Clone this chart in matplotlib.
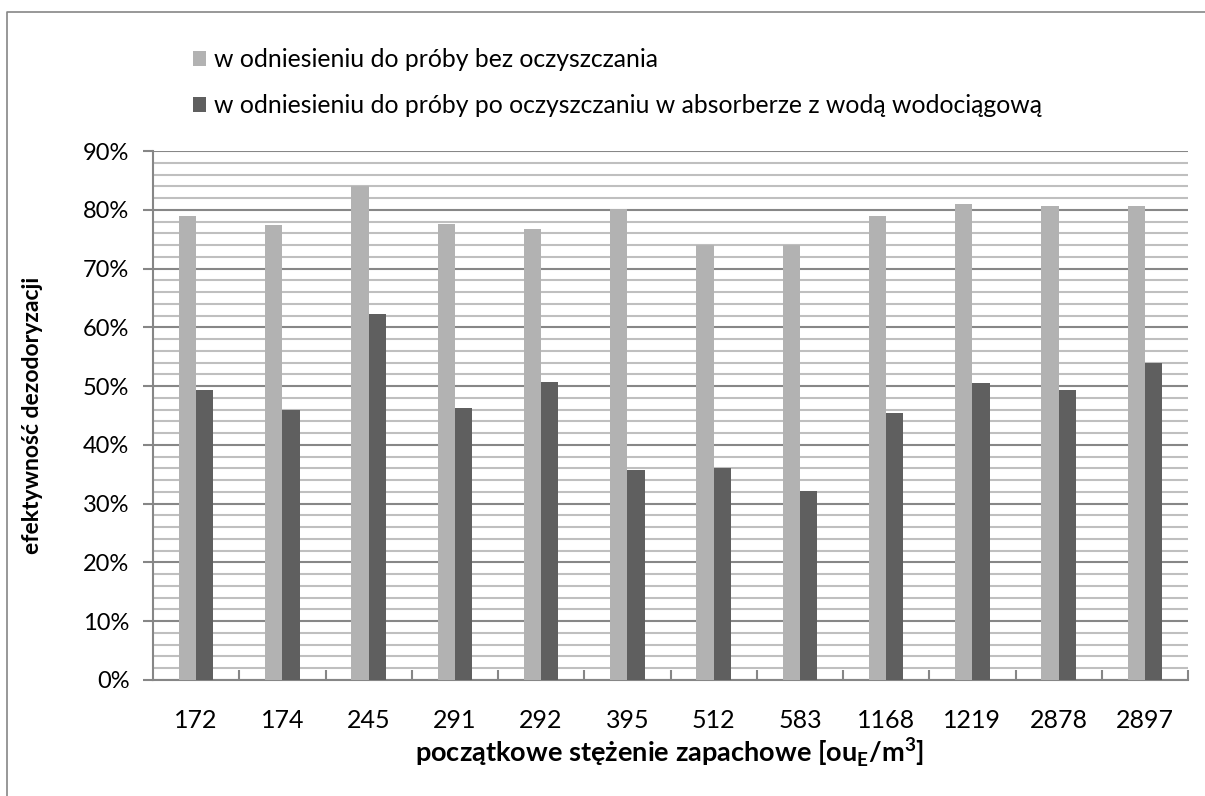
import numpy as np
import matplotlib
matplotlib.use("Agg")
import matplotlib.pyplot as plt
from matplotlib.patches import Patch
from matplotlib.lines import Line2D
from matplotlib.ticker import MultipleLocator, FixedLocator, PercentFormatter

plt.rcParams['font.family'] = ['Lato', 'DejaVu Sans']
plt.rcParams['mathtext.fontset'] = 'custom'
plt.rcParams['mathtext.rm'] = 'Lato'
plt.rcParams['mathtext.bf'] = 'Lato:bold'

# Initial odour concentration categories [ouE/m3]
concentrations = ["172", "174", "245", "291", "292", "395", "512", "583",
                  "1168", "1219", "2878", "2897"]
# Deodorisation efficiency relative to the untreated sample
eff_untreated = [79.0, 77.4, 84.1, 77.5, 76.7, 80.1, 74.0, 74.0, 78.9, 81.0, 80.7, 80.7]
# Deodorisation efficiency relative to the sample after the tap-water absorber
eff_after_water = [49.4, 46.0, 62.2, 46.3, 50.7, 35.8, 36.0, 32.1, 45.4, 50.5, 49.3, 54.0]
series_labels = ["w odniesieniu do próby bez oczyszczania",
                 "w odniesieniu do próby po oczyszczaniu w absorberze z wodą wodociągową"]

LIGHT = "#b2b2b2"
DARK = "#5f5f5f"
AXIS = "#868686"

W, H = 1205, 796
fig = plt.figure(figsize=(W / 100, H / 100), dpi=100)
ax = fig.add_axes([153 / W, 1 - 680 / H, (1188 - 153) / W, (680 - 151) / H])

x = np.arange(len(concentrations))
bw = 0.2
ax.bar(x - bw / 2, np.array(eff_untreated) / 100, width=bw, color=LIGHT, zorder=3)
ax.bar(x + bw / 2, np.array(eff_after_water) / 100, width=bw, color=DARK, zorder=3)

ax.set_xlim(-0.5, len(concentrations) - 0.5)
ax.set_ylim(0, 0.9)

# y axis: major every 10 %, minor gridlines every 2 %
ax.yaxis.set_major_locator(MultipleLocator(0.1))
ax.yaxis.set_minor_locator(MultipleLocator(0.02))
ax.yaxis.set_major_formatter(PercentFormatter(1.0, decimals=0))
ax.grid(axis='y', which='minor', color="#bfbfbf", lw=1.5, zorder=0)
ax.grid(axis='y', which='major', color="#878787", lw=1.5, zorder=1)
ax.tick_params(axis='y', which='major', length=7, width=1.5, color=AXIS,
               labelsize=17, pad=10, labelcolor='black')
ax.tick_params(axis='y', which='minor', length=0)

# x axis: labels at centres, short inward ticks at category boundaries
ax.set_xticks(x)
ax.set_xticklabels(concentrations)
ax.xaxis.set_minor_locator(FixedLocator(np.arange(0.5, len(concentrations), 1.0)))
ax.tick_params(axis='x', which='major', length=0, labelsize=18, pad=21)
ax.tick_params(axis='x', which='minor', direction='in', length=7, width=1.5, color=AXIS)

for side in ('top', 'right'):
    ax.spines[side].set_visible(False)
for side in ('left', 'bottom'):
    ax.spines[side].set_color(AXIS)
    ax.spines[side].set_linewidth(1.5)
ax.set_axisbelow(True)

fig.text(33 / W, 1 - 415 / H, "efektywność dezodoryzacji", rotation=90,
         ha='center', va='center', fontsize=16.5, fontweight='bold')
fig.text(670 / W, 1 - 752 / H,
         r"początkowe stężenie zapachowe [ou$_{\mathbf{E}}$/m$^{\mathbf{3}}$]",
         ha='center', va='center', fontsize=19.5, fontweight='bold')

handles = [Patch(facecolor=LIGHT), Patch(facecolor=DARK)]
fig.legend(handles, series_labels, loc='upper left',
           bbox_to_anchor=(183 / W, 1 - 38 / H), frameon=False,
           fontsize=17.8, handlelength=0.55, handleheight=0.55,
           handletextpad=0.3, labelspacing=0.93, borderaxespad=0)

# outer chart border (left and top edges)
fig.add_artist(Line2D([7 / W, 7 / W, 1.0], [0.0, 1 - 12 / H, 1 - 12 / H],
                      transform=fig.transFigure, color=AXIS, lw=1.2))

fig.savefig("out.png", dpi=100)
